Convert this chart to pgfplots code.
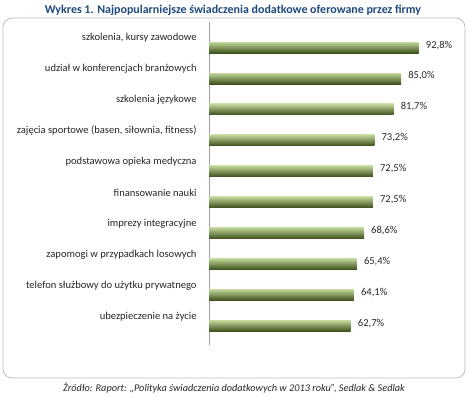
\documentclass[border=0pt]{standalone}
\usepackage{pgfplots}
\pgfplotsset{compat=1.18}
\usepackage{fontspec}
\setmainfont{Carlito}
\definecolor{titleblue}{HTML}{1F497D}
\definecolor{gtop}{HTML}{C2D79A}
\definecolor{gmid}{HTML}{6F8B37}
\definecolor{gbot}{HTML}{3D4F1A}
\definecolor{framegray}{HTML}{BFBFBF}
\definecolor{txt}{HTML}{262626}
\begin{document}
\begin{tikzpicture}[x=1bp,y=1bp]
\path[use as bounding box] (0,0) rectangle (470,397);
\draw[framegray, rounded corners=9bp, line width=0.8bp] (3,19) rectangle (465,379);
\node[font=\fontsize{12}{14}\selectfont\bfseries, text=titleblue] at (233,387) {Wykres 1. Najpopularniejsze świadczenia dodatkowe oferowane przez firmy};
\node[font=\fontsize{10.3}{12}\selectfont\itshape, text=txt] at (234,9) {Źródło: Raport: „Polityka świadczenia dodatkowych w 2013 roku”, Sedlak \& Sedlak};
\begin{axis}[
  scale only axis,
  at={(209bp,52bp)}, anchor=south west,
  width=226bp, height=323bp,
  xmin=0, xmax=100, ymin=-0.62, ymax=9.83,
  axis x line=none,
  axis y line=left,
  axis line style={-, draw=gray!75, line width=0.8bp},
  ytick={0,...,9},
  ytick style={draw=none},
  yticklabels={ubezpieczenie na życie, telefon służbowy do użytku prywatnego, zapomogi w przypadkach losowych, imprezy integracyjne, finansowanie nauki, podstawowa opieka medyczna, {zajęcia sportowe (basen, siłownia, fitness)}, szkolenia językowe, udział w konferencjach  branżowych, {szkolenia, kursy zawodowe}},
  yticklabel style={font=\fontsize{10.6}{12}\selectfont, text=txt, inner sep=0pt, anchor=east, xshift=-8bp, yshift=9.5bp},
  xbar, bar width=11bp, bar shift=0pt,
  /pgf/number format/assume math mode=true,
  nodes near coords={\pgfmathprintnumber[fixed, fixed zerofill, precision=1, use comma]{\pgfplotspointmeta}\%},
  every node near coord/.append style={font=\fontsize{10.6}{12}\selectfont, text=txt, anchor=west, inner sep=0pt, xshift=7bp, yshift=2.5bp},
  mybar/.style={draw=none, top color=gtop, middle color=gmid, bottom color=gbot},
]
\addplot[mybar] coordinates {(92.8,9)};
\addplot[mybar] coordinates {(85.0,8)};
\addplot[mybar] coordinates {(81.7,7)};
\addplot[mybar] coordinates {(73.2,6)};
\addplot[mybar] coordinates {(72.5,5)};
\addplot[mybar] coordinates {(72.5,4)};
\addplot[mybar] coordinates {(68.6,3)};
\addplot[mybar] coordinates {(65.4,2)};
\addplot[mybar] coordinates {(64.1,1)};
\addplot[mybar] coordinates {(62.7,0)};
\end{axis}
\end{tikzpicture}
\end{document}
